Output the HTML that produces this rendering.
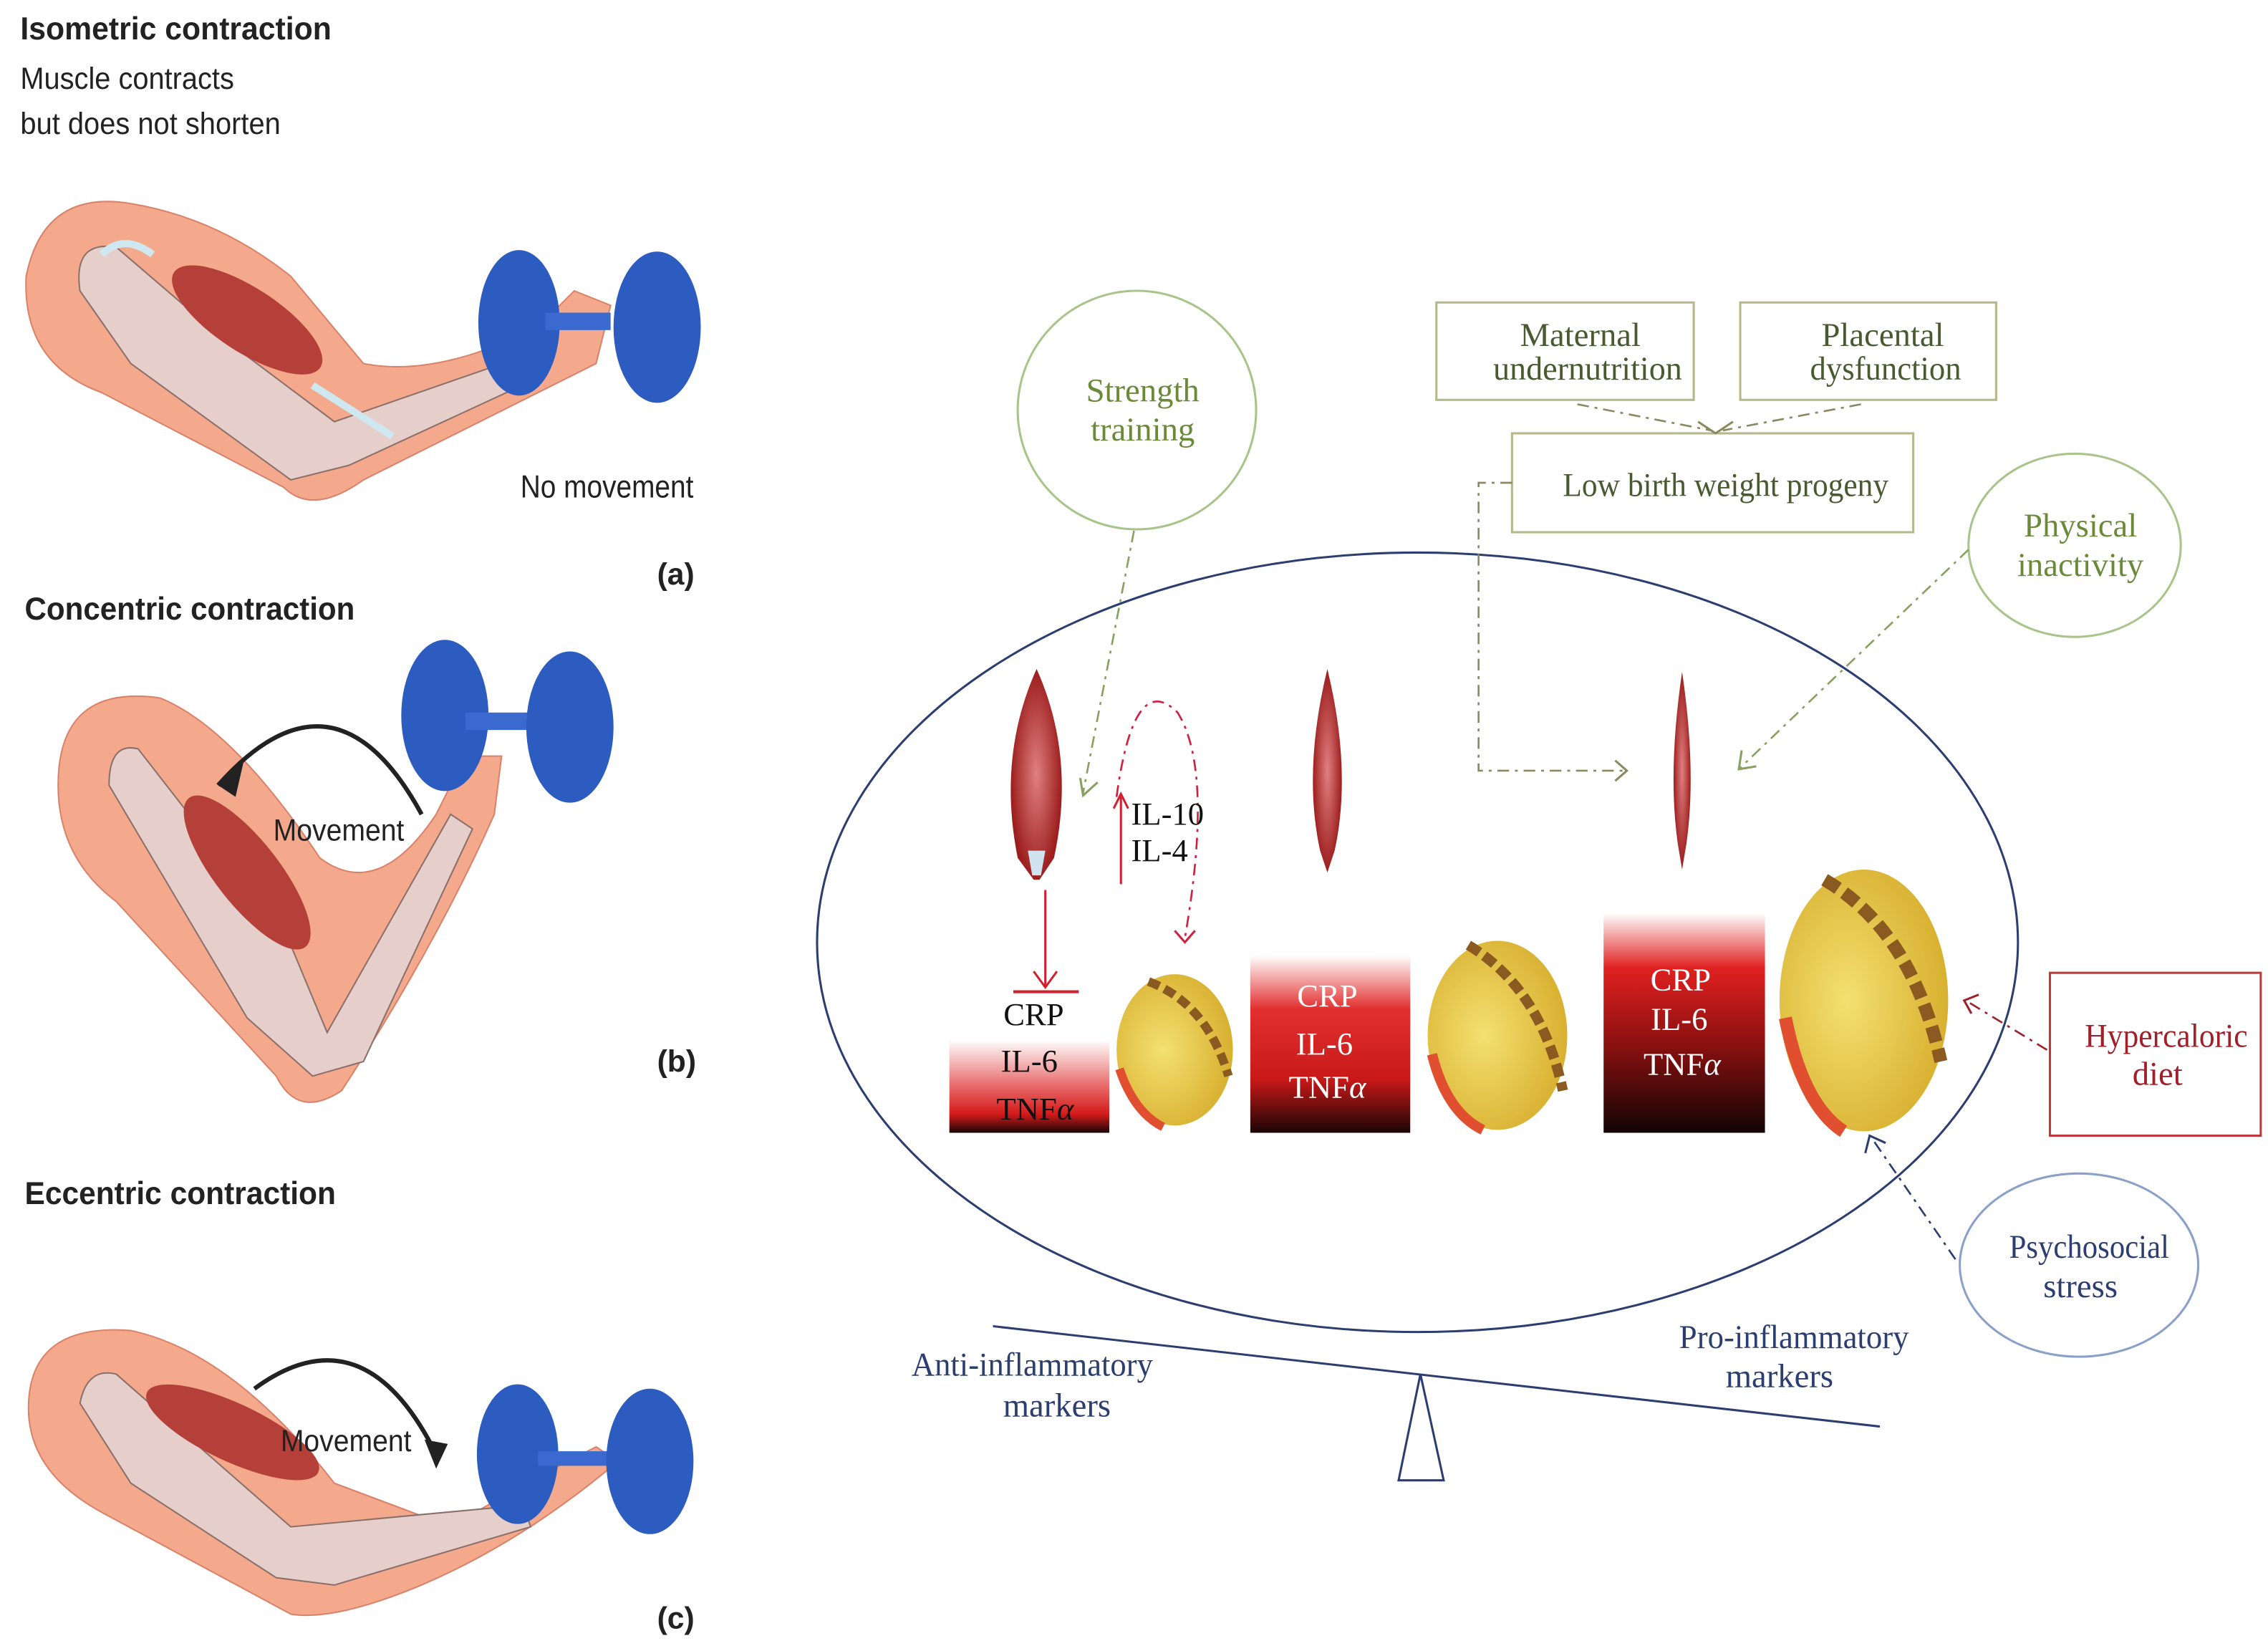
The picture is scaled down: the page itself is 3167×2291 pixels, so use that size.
<!DOCTYPE html>
<html><head><meta charset="utf-8"><style>
html,body{margin:0;padding:0;background:#fff}
svg{display:block}
.h{font-family:"Liberation Sans",sans-serif;font-weight:bold;fill:#222}
.s{font-family:"Liberation Sans",sans-serif;fill:#222}
.sf{font-family:"Liberation Serif",serif}
</style></head><body>
<svg width="3167" height="2291" viewBox="0 0 1560 1128.5" preserveAspectRatio="none" xmlns="http://www.w3.org/2000/svg">
<defs>
<linearGradient id="g1" x1="0" y1="0" x2="0" y2="1"><stop offset="0" stop-color="#fff"/><stop offset="0.5" stop-color="#e86a6a"/><stop offset="0.8" stop-color="#d41a1a"/><stop offset="1" stop-color="#1a0505"/></linearGradient>
<linearGradient id="g2" x1="0" y1="0" x2="0" y2="1"><stop offset="0" stop-color="#fff"/><stop offset="0.3" stop-color="#e23030"/><stop offset="0.7" stop-color="#c81818"/><stop offset="1" stop-color="#1a0505"/></linearGradient>
<linearGradient id="g3" x1="0" y1="0" x2="0" y2="1"><stop offset="0" stop-color="#fff"/><stop offset="0.25" stop-color="#e02020"/><stop offset="0.6" stop-color="#8a1010"/><stop offset="1" stop-color="#120404"/></linearGradient>
<radialGradient id="mus" cx="0.5" cy="0.5" r="0.5"><stop offset="0" stop-color="#e08080"/><stop offset="1" stop-color="#9c1d1d"/></radialGradient>
<radialGradient id="fat" cx="0.4" cy="0.5" r="0.6"><stop offset="0" stop-color="#f4e070"/><stop offset="1" stop-color="#d8b030"/></radialGradient>
</defs>
<text class="h" x="14" y="27" font-size="22" textLength="214" lengthAdjust="spacingAndGlyphs">Isometric contraction</text>
<text class="s" x="14" y="61" font-size="21" textLength="147" lengthAdjust="spacingAndGlyphs">Muscle contracts</text>
<text class="s" x="14" y="92" font-size="21" textLength="179" lengthAdjust="spacingAndGlyphs">but does not shorten</text>
<g>
<path d="M18,190 Q30,130 90,140 Q150,150 200,190 L250,250 Q300,260 370,225 L395,200 L420,210 L410,250 Q330,290 250,330 Q215,355 195,335 L70,270 Q15,250 18,190Z" fill="#f4a98c" stroke="#d9826a" stroke-width="1"/>
<path d="M55,200 Q50,165 80,170 L150,230 L230,290 L360,245 L370,260 L240,320 L200,330 L90,250 Z" fill="#e6cfcb" stroke="#8a6f6a" stroke-width="1"/>
<ellipse cx="170" cy="220" rx="60" ry="22" transform="rotate(33 170 220)" fill="#b5403a"/>
<path d="M70,175 Q85,160 105,175" fill="none" stroke="#cfe8f0" stroke-width="5"/>
<path d="M215,265 L270,300" stroke="#cfe8f0" stroke-width="5"/>
<ellipse cx="357" cy="222" rx="28" ry="50" fill="#2d5cc0"/>
<rect x="375" y="215" width="45" height="12" fill="#3a6ad0"/>
<ellipse cx="452" cy="225" rx="30" ry="52" fill="#2d5cc0"/>
<text class="s" x="358" y="342" font-size="22" textLength="119" lengthAdjust="spacingAndGlyphs">No movement</text>
<text class="h" x="452" y="402" font-size="21">(a)</text>
</g>
<text class="h" x="17" y="426" font-size="22" textLength="227" lengthAdjust="spacingAndGlyphs">Concentric contraction</text>
<g>
<path d="M40,540 Q40,470 110,480 Q160,500 220,590 Q260,620 300,560 L320,520 L345,520 L340,560 Q300,650 235,750 Q205,770 190,740 L80,620 Q40,590 40,540Z" fill="#f4a98c" stroke="#d9826a" stroke-width="1"/>
<path d="M75,540 Q75,510 95,515 L200,650 L225,710 L310,560 L325,570 L250,730 L215,740 L170,700 Z" fill="#e6cfcb" stroke="#8a6f6a" stroke-width="1"/>
<ellipse cx="170" cy="600" rx="65" ry="22" transform="rotate(52 170 600)" fill="#b5403a"/>
<path d="M150,540 Q230,450 290,560" fill="none" stroke="#222" stroke-width="3"/>
<polygon points="150,540 168,522 162,548" fill="#222"/>
<ellipse cx="306" cy="492" rx="30" ry="52" fill="#2d5cc0"/>
<rect x="320" y="490" width="50" height="12" fill="#3a6ad0"/>
<ellipse cx="392" cy="500" rx="30" ry="52" fill="#2d5cc0"/>
<text class="s" x="188" y="578" font-size="21" textLength="90" lengthAdjust="spacingAndGlyphs">Movement</text>
<text class="h" x="452" y="737" font-size="21">(b)</text>
</g>
<text class="h" x="17" y="828" font-size="22" textLength="214" lengthAdjust="spacingAndGlyphs">Eccentric contraction</text>
<g>
<path d="M20,960 Q25,910 90,915 Q160,930 230,1020 L310,1050 Q360,1020 410,995 L425,1005 Q360,1060 290,1090 Q230,1115 200,1110 L70,1040 Q15,1010 20,960Z" fill="#f4a98c" stroke="#d9826a" stroke-width="1"/>
<path d="M55,965 Q60,940 80,945 L200,1050 L360,1035 L365,1050 L230,1090 L190,1085 L90,1020 Z" fill="#e6cfcb" stroke="#8a6f6a" stroke-width="1"/>
<ellipse cx="160" cy="985" rx="65" ry="20" transform="rotate(25 160 985)" fill="#b5403a"/>
<path d="M175,955 Q250,900 300,1000" fill="none" stroke="#222" stroke-width="3"/>
<polygon points="300,1010 292,990 308,993" fill="#222"/>
<ellipse cx="356" cy="1000" rx="28" ry="48" fill="#2d5cc0"/>
<rect x="370" y="998" width="50" height="10" fill="#3a6ad0"/>
<ellipse cx="447" cy="1005" rx="30" ry="50" fill="#2d5cc0"/>
<text class="s" x="193" y="998" font-size="21" textLength="90" lengthAdjust="spacingAndGlyphs">Movement</text>
<text class="h" x="452" y="1120" font-size="21">(c)</text>
</g>

<g class="sf">
<ellipse cx="975" cy="648" rx="413" ry="268" fill="none" stroke="#2c3e70" stroke-width="1.5"/>
<ellipse cx="782" cy="282" rx="82" ry="82" fill="none" stroke="#a9c48a" stroke-width="1.5"/>
<text x="786" y="276" font-size="23" fill="#6a8a3a" text-anchor="middle">Strength</text>
<text x="786" y="303" font-size="23" fill="#6a8a3a" text-anchor="middle">training</text>
<rect x="988" y="208" width="177" height="67" fill="none" stroke="#b4b88a" stroke-width="1.5"/>
<text x="1087" y="238" font-size="23" fill="#4a5a30" text-anchor="middle">Maternal</text>
<text x="1092" y="261" font-size="23" fill="#4a5a30" text-anchor="middle" textLength="130" lengthAdjust="spacingAndGlyphs">undernutrition</text>
<rect x="1197" y="208" width="176" height="67" fill="none" stroke="#b4b88a" stroke-width="1.5"/>
<text x="1295" y="238" font-size="23" fill="#4a5a30" text-anchor="middle">Placental</text>
<text x="1297" y="261" font-size="23" fill="#4a5a30" text-anchor="middle" textLength="104" lengthAdjust="spacingAndGlyphs">dysfunction</text>
<rect x="1040" y="298" width="276" height="68" fill="none" stroke="#b4b88a" stroke-width="1.5"/>
<text x="1187" y="341" font-size="23" fill="#4a5a30" text-anchor="middle" textLength="224" lengthAdjust="spacingAndGlyphs">Low birth weight progeny</text>
<ellipse cx="1427" cy="375" rx="73" ry="63" fill="none" stroke="#a9c48a" stroke-width="1.5"/>
<text x="1431" y="369" font-size="23" fill="#6a8a3a" text-anchor="middle">Physical</text>
<text x="1431" y="396" font-size="23" fill="#6a8a3a" text-anchor="middle">inactivity</text>
<rect x="1410" y="669" width="145" height="112" fill="none" stroke="#c0393a" stroke-width="1.5"/>
<text x="1490" y="720" font-size="23" fill="#a0202a" text-anchor="middle" textLength="112" lengthAdjust="spacingAndGlyphs">Hypercaloric</text>
<text x="1484" y="746" font-size="23" fill="#a0202a" text-anchor="middle">diet</text>
<ellipse cx="1430" cy="870" rx="82" ry="63" fill="none" stroke="#8aa0c8" stroke-width="1.5"/>
<text x="1437" y="865" font-size="23" fill="#2c3e70" text-anchor="middle" textLength="110" lengthAdjust="spacingAndGlyphs">Psychosocial</text>
<text x="1431" y="892" font-size="23" fill="#2c3e70" text-anchor="middle">stress</text>
<g fill="none" stroke-width="1.3" stroke-dasharray="8,4,2,4">
<path d="M780,365 L745,545" stroke="#8aa060"/>
<path d="M1085,278 L1177,296 M1280,278 L1185,296" stroke="#8a8a60"/>
<path d="M1040,332 L1017,332 L1017,530 L1118,530" stroke="#8a8a60"/>
<path d="M1354,378 L1197,528" stroke="#8aa060"/>
<path d="M1408,722 L1352,688" stroke="#a0202a"/>
<path d="M1345,866 L1287,782" stroke="#2c3e70"/>
<path d="M768,548 Q780,460 810,490 Q835,530 815,645" stroke="#d02040"/>
</g>
<g fill="none" stroke-width="1.5">
<path d="M743,535 L745,547 L755,538" stroke="#8aa060"/>
<path d="M1168,290 L1180,298 L1192,290" stroke="#8a8a60"/>
<path d="M1111,523 L1119,530 L1111,537" stroke="#8a8a60"/>
<path d="M1198,516 L1196,529 L1208,527" stroke="#8aa060"/>
<path d="M1361,684 L1351,688 L1356,697" stroke="#a0202a"/>
<path d="M1283,793 L1286,781 L1297,786" stroke="#2c3e70"/>
<path d="M808,640 L815,648 L822,640" stroke="#d02040"/>
</g>
<path d="M713,460 Q740,520 725,590 L715,605 L711,605 L700,590 Q686,520 713,460Z" fill="url(#mus)"/>
<path d="M707,585 L719,585 L716,602 L710,602Z" fill="#cfe4ee"/>
<path d="M913,460 Q930,530 918,585 L913,600 L908,585 Q896,530 913,460Z" fill="url(#mus)"/>
<path d="M1157,462 Q1167,530 1160,580 L1157,598 L1154,580 Q1147,530 1157,462Z" fill="url(#mus)"/>
<line x1="719" y1="612" x2="719" y2="678" stroke="#d02030" stroke-width="1.5"/>
<path d="M711,668 L719,679 L727,668" fill="none" stroke="#d02030" stroke-width="1.5"/>
<line x1="697" y1="682" x2="742" y2="682" stroke="#d02030" stroke-width="2"/>
<line x1="771" y1="608" x2="771" y2="548" stroke="#d02030" stroke-width="1.5"/>
<path d="M766,556 L771,546 L776,556" fill="none" stroke="#d02030" stroke-width="1.5"/>
<text x="778" y="567" font-size="22" fill="#111">IL-10</text>
<text x="778" y="592" font-size="22" fill="#111">IL-4</text>
<rect x="653" y="715" width="110" height="64" fill="url(#g1)"/>
<text x="711" y="705" font-size="22" fill="#111" text-anchor="middle">CRP</text>
<text x="708" y="737" font-size="22" fill="#111" text-anchor="middle">IL-6</text>
<text x="712" y="770" font-size="22" fill="#111" text-anchor="middle">TNF<tspan font-style="italic">α</tspan></text>
<rect x="860" y="657" width="110" height="122" fill="url(#g2)"/>
<text x="913" y="692" font-size="22" fill="#fff" text-anchor="middle">CRP</text>
<text x="911" y="725" font-size="22" fill="#fff" text-anchor="middle">IL-6</text>
<text x="913" y="755" font-size="22" fill="#fff" text-anchor="middle">TNF<tspan font-style="italic">α</tspan></text>
<rect x="1103" y="628" width="111" height="151" fill="url(#g3)"/>
<text x="1156" y="681" font-size="22" fill="#fff" text-anchor="middle">CRP</text>
<text x="1155" y="708" font-size="22" fill="#fff" text-anchor="middle">IL-6</text>
<text x="1157" y="739" font-size="22" fill="#fff" text-anchor="middle">TNF<tspan font-style="italic">α</tspan></text>
<ellipse cx="808" cy="722" rx="40" ry="52" fill="url(#fat)"/>
<path d="M790,675 Q830,690 845,740" fill="none" stroke="#8a5a20" stroke-width="6" stroke-dasharray="8,4"/>
<path d="M770,735 Q780,765 800,775" fill="none" stroke="#e05030" stroke-width="6"/>
<ellipse cx="1030" cy="712" rx="48" ry="65" fill="url(#fat)"/>
<path d="M1010,650 Q1060,680 1075,750" fill="none" stroke="#8a5a20" stroke-width="7" stroke-dasharray="9,4"/>
<path d="M985,725 Q995,765 1020,777" fill="none" stroke="#e05030" stroke-width="7"/>
<ellipse cx="1282" cy="688" rx="58" ry="90" fill="url(#fat)"/>
<path d="M1255,605 Q1315,640 1335,730" fill="none" stroke="#8a5a20" stroke-width="9" stroke-dasharray="11,5"/>
<path d="M1228,700 Q1240,760 1268,778" fill="none" stroke="#e05030" stroke-width="9"/>
<line x1="683" y1="912" x2="1293" y2="981" stroke="#2c3e70" stroke-width="1.5"/>
<polygon points="977,945 962,1018 993,1018" fill="#fff" stroke="#2c3e70" stroke-width="1.5"/>
<text x="710" y="946" font-size="23" fill="#2c3e70" text-anchor="middle" textLength="166" lengthAdjust="spacingAndGlyphs">Anti-inflammatory</text>
<text x="727" y="974" font-size="23" fill="#2c3e70" text-anchor="middle">markers</text>
<text x="1234" y="927" font-size="23" fill="#2c3e70" text-anchor="middle" textLength="158" lengthAdjust="spacingAndGlyphs">Pro-inflammatory</text>
<text x="1224" y="954" font-size="23" fill="#2c3e70" text-anchor="middle">markers</text>
</g>
</svg>
</body></html>
